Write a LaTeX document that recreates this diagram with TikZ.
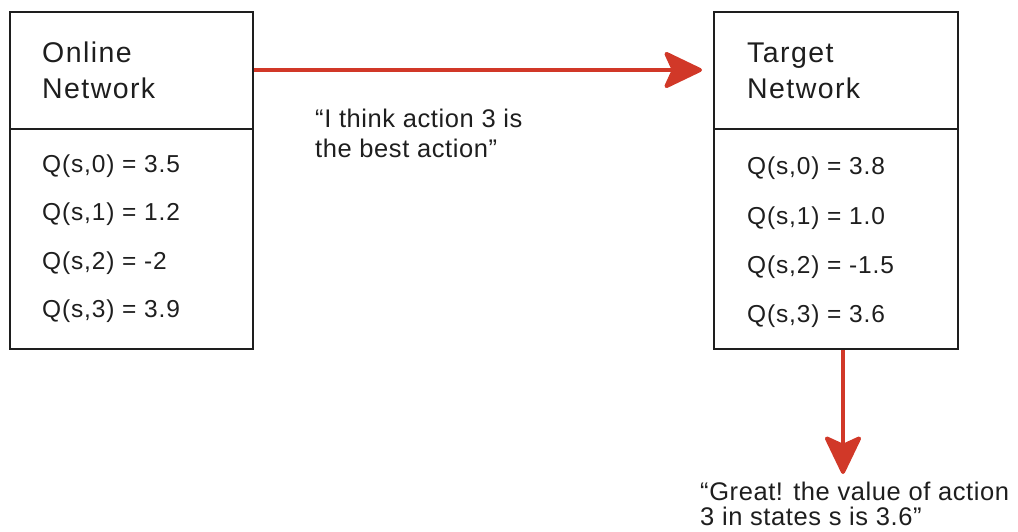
\documentclass[tikz,border=0pt]{standalone}
\usepackage{fontspec}
\setmainfont{Liberation Sans}
\newfontfamily\headfont[LetterSpace=5]{Liberation Sans}
\newfontfamily\valfont[LetterSpace=3.5]{Liberation Sans}
\newfontfamily\notefont[LetterSpace=2.3]{Liberation Sans}
\usetikzlibrary{arrows.meta,calc}
\definecolor{arrowred}{RGB}{209,56,40}
\definecolor{ink}{RGB}{30,30,30}
\begin{document}
\begin{tikzpicture}[x=1pt,y=-1pt,
  panel/.style={draw=ink,line width=2pt,inner sep=0pt,anchor=north west},
  title/.style={anchor=base west,inner sep=0pt,text=ink,font=\headfont\fontsize{28.5}{36}\selectfont},
  qval/.style={anchor=base west,inner sep=0pt,text=ink,font=\valfont\fontsize{24.5}{29}\selectfont},
  remark/.style={anchor=base west,inner sep=0pt,text=ink,font=\notefont\fontsize{25.5}{30}\selectfont},
  flow/.style={draw=arrowred,line width=4pt,
    -{Stealth[length=42pt,width=40pt,inset=9pt,fill=arrowred,line join=round]}}]
  \useasboundingbox (0,0) rectangle (1018,532);

  % Online network: title panel and value panel
  \node[panel,minimum width=243pt,minimum height=117pt] (onhead) at (9,11) {};
  \node[panel,minimum width=243pt,minimum height=220pt] (onbody) at (9,128) {};
  \node[title] (onT1) at (42,63) {Online};
  \node[title] (onT2) at (42,99) {Network};
  \node[qval] (onq0) at (42,173) {Q(s,0) = 3.5};
  \node[qval] (onq1) at (42,221) {Q(s,1) = 1.2};
  \node[qval] (onq2) at (42,269) {Q(s,2) = -2};
  \node[qval] (onq3) at (42,317) {Q(s,3) = 3.9};

  % Target network: title panel and value panel
  \node[panel,minimum width=244pt,minimum height=117pt] (tghead) at (713,11) {};
  \node[panel,minimum width=244pt,minimum height=220pt] (tgbody) at (713,128) {};
  \node[title] (tgT1) at (747,63) {Target};
  \node[title] (tgT2) at (747,99) {Network};
  \node[qval] (tgq0) at (747,175) {Q(s,0) = 3.8};
  \node[qval] (tgq1) at (747,224) {Q(s,1) = 1.0};
  \node[qval] (tgq2) at (747,273) {Q(s,2) = -1.5};
  \node[qval] (tgq3) at (747,322) {Q(s,3) = 3.6};

  % Remarks
  \node[remark] (say1a) at (315,128) {“I think action 3 is};
  \node[remark] (say1b) at (315,158) {the best action”};
  \node[remark] (say2a) at (700,500) {“Great! the value of action};
  \node[remark] (say2b) at (700,525) {3 in states s is 3.6”};

  % Connectors
  \draw[flow,shorten >=11pt] (onhead.east |- 0,70) -- (tghead.west |- 0,70);
  \coordinate (drop) at (843,474);
  \draw[flow] (tgbody.south -| drop) -- (drop);
\end{tikzpicture}
\end{document}
